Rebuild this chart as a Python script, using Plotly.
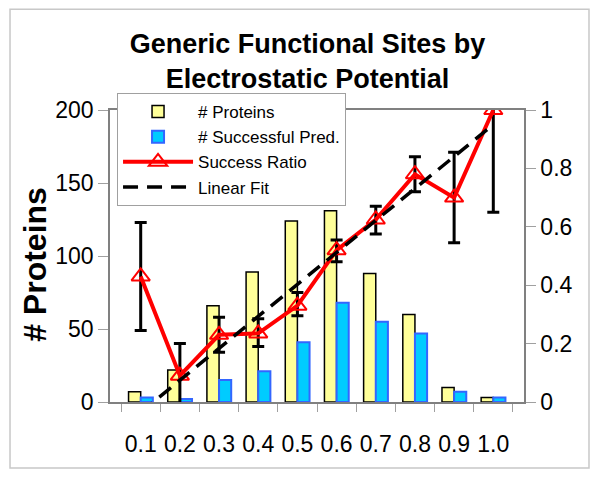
import plotly.graph_objects as go

categories = ["0.1", "0.2", "0.3", "0.4", "0.5", "0.6", "0.7", "0.8", "0.9", "1.0"]
proteins = [7, 22, 66, 89, 124, 131, 88, 60, 10, 3]
successful = [3, 2, 15, 21, 41, 68, 55, 47, 7, 3]
success_ratio = [0.43, 0.09, 0.23, 0.235, 0.33, 0.52, 0.625, 0.78, 0.70, 1.0]
err_plus = [0.185, 0.11, 0.06, 0.05, 0.045, 0.035, 0.045, 0.06, 0.155, 0.03]
err_minus = [0.185, 0.10, 0.06, 0.045, 0.035, 0.04, 0.05, 0.06, 0.155, 0.35]
fit_x = ["0.1", "1.0"]
fit_y = [-0.035, 0.95]

left_ticks = [0, 50, 100, 150, 200]
right_ticks = [0, 0.2, 0.4, 0.6, 0.8, 1.0]
right_labels = ["0", "0.2", "0.4", "0.6", "0.8", "1"]

FONT = "Liberation Sans, Arial, sans-serif"

fig = go.Figure()
fig.add_trace(go.Bar(
    x=categories, y=proteins, name="# Proteins",
    marker=dict(color="#FFFF99", line=dict(color="black", width=1.5)),
    yaxis="y",
))
fig.add_trace(go.Bar(
    x=categories, y=successful, name="# Successful Pred.",
    marker=dict(color="#00CCFF", line=dict(color="#3366FF", width=2)),
    yaxis="y",
))
fig.add_trace(go.Scatter(
    x=categories, y=success_ratio, name="Success Ratio", yaxis="y2",
    mode="lines+markers",
    line=dict(color="#FF0000", width=4),
    marker=dict(symbol="triangle-up-open", size=16, color="#FF0000",
                line=dict(width=2, color="#FF0000")),
    error_y=dict(type="data", symmetric=False, array=err_plus, arrayminus=err_minus,
                 color="black", thickness=3, width=6),
))
fig.add_trace(go.Scatter(
    x=fit_x, y=fit_y, name="Linear Fit", yaxis="y2", mode="lines",
    line=dict(color="black", width=3.5, dash="15px,9px"),
))

fig.update_layout(
    width=592, height=471,
    margin=dict(l=102, r=76, t=102, b=77, autoexpand=False),
    paper_bgcolor="white", plot_bgcolor="white",
    font=dict(family=FONT, color="black", size=23),
    barmode="group", bargap=0.38, bargroupgap=0.0,
    title=dict(text="<b>Generic Functional Sites by<br>Electrostatic Potential</b>",
               xref="paper", x=0.477, xanchor="center", y=0.905, yanchor="top",
               font=dict(size=27, family=FONT)),
    showlegend=True,
    legend=dict(x=0.017, y=1.058, xanchor="left", yanchor="top",
                bgcolor="white", bordercolor="#A0A0A0", borderwidth=1,
                font=dict(size=17, family=FONT), itemwidth=70,
                tracegroupgap=0),
    xaxis=dict(type="category", categoryorder="array", categoryarray=categories,
               showline=True, linecolor="#808080", linewidth=1.5, mirror=True,
               ticks="outside", tickson="boundaries", ticklen=8, tickcolor="#A0A0A0",
               showgrid=False, tickfont=dict(size=23), tickangle=0, automargin=False,
               ticklabelstandoff=21),
    yaxis=dict(range=[0, 200], tickvals=left_ticks, showgrid=False, zeroline=False,
               showline=True, linecolor="#808080", linewidth=1.5,
               ticks="outside", ticklen=10, tickcolor="#A0A0A0",
               tickfont=dict(size=23), automargin=False),
    yaxis2=dict(range=[0, 1], overlaying="y", side="right", tickvals=right_ticks,
                ticktext=right_labels, showgrid=False, zeroline=False,
                showline=True, linecolor="#808080", linewidth=1.5,
                ticks="outside", ticklen=10, tickcolor="#A0A0A0",
                tickfont=dict(size=23), automargin=False),
    shapes=[dict(type="rect", xref="paper", yref="paper",
                 x0=-0.2415, x1=1.157, y0=-0.226, y1=1.345,
                 line=dict(color="#C8C8C8", width=1.5), fillcolor="rgba(0,0,0,0)",
                 layer="below")],
    annotations=[dict(text="<b># Proteins</b>", textangle=-90, xref="paper", yref="paper",
                      x=-0.181, y=0.47, xanchor="center", yanchor="middle",
                      showarrow=False, font=dict(size=32, family=FONT))],
)

fig.write_html("out.html")
